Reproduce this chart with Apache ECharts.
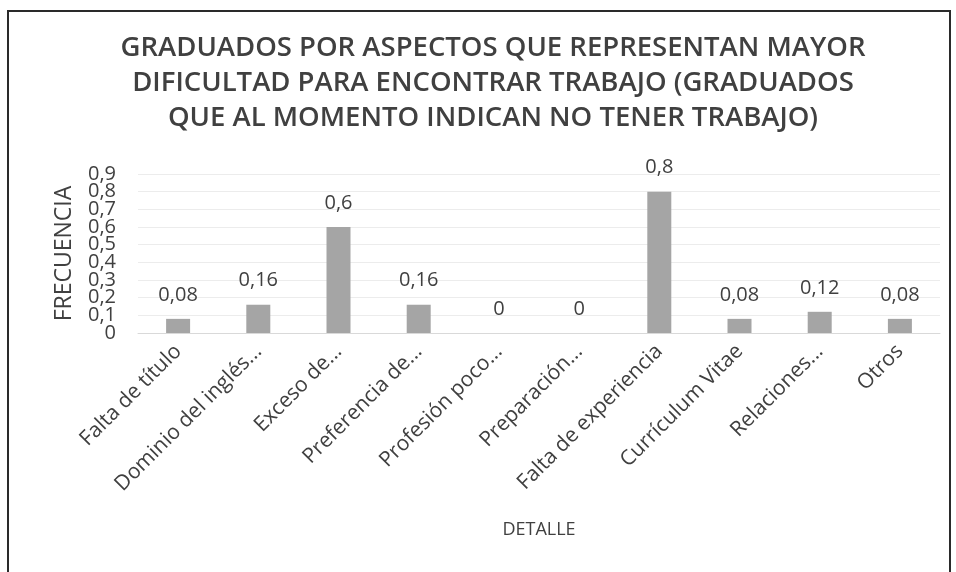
<!DOCTYPE html>
<html><head><meta charset="utf-8">
<script src="https://cdn.jsdelivr.net/npm/echarts@6/dist/echarts.min.js"></script>
<style>html,body{margin:0;padding:0;background:#fff}#c{width:956px;height:572px}</style>
</head><body><div id="c"></div>
<script>
const categories = ['Falta de título','Dominio del inglés...','Exceso de...','Preferencia de...','Profesión poco...','Preparación...','Falta de experiencia','Currículum Vitae','Relaciones...','Otros'];
const values = [0.08, 0.16, 0.6, 0.16, 0, 0, 0.8, 0.08, 0.12, 0.08];
const titleLines = ['GRADUADOS POR ASPECTOS QUE REPRESENTAN MAYOR','DIFICULTAD PARA ENCONTRAR TRABAJO (GRADUADOS','QUE AL MOMENTO INDICAN NO TENER TRABAJO)'];
const fmt = v => String(v).replace('.', ',');
const tickText = v => fmt(Math.round(v * 10) / 10);
const isEven = v => Math.round(v * 10) % 2 === 0;
const yLabelStyle = {fontFamily:'Open Sans', fontSize:20, color:'#404040', margin:22, showMinLabel:true, showMaxLabel:true, hideOverlap:false};
const chart = echarts.init(document.getElementById('c'));
chart.setOption({
  backgroundColor: '#fff',
  animation: false,
  graphic: [
    {type:'rect', shape:{x:8,y:11,width:942,height:600}, style:{fill:'none', stroke:'#2a2a2a', lineWidth:2}, silent:true},
    {type:'text', style:{text: titleLines.join('\n'), x:493, y:83, align:'center', verticalAlign:'middle', font:'600 27.5px "Open Sans"', lineHeight:35, fill:'#404040'}}
  ],
  grid: {left:138, right:16, top:174, bottom:239},
  xAxis: {
    type:'category', data: categories,
    name:'DETALLE', nameLocation:'middle', nameGap:188,
    nameTextStyle:{fontFamily:'Open Sans', fontSize:18, color:'#404040'},
    axisLine:{lineStyle:{color:'#d9d9d9'}}, axisTick:{show:false},
    axisLabel:{rotate:45, interval:0, fontFamily:'Open Sans', fontSize:21, color:'#404040', margin:15}
  },
  yAxis: [{
    type:'value', min:0, max:0.9, interval:0.1, position:'left',
    name:'FRECUENCIA', nameLocation:'middle', nameGap:62, nameRotate:90,
    nameTextStyle:{fontFamily:'Open Sans', fontSize:23, color:'#404040'},
    axisLine:{show:false}, axisTick:{show:false},
    splitLine:{lineStyle:{color:'#ececec'}},
    axisLabel: Object.assign({}, yLabelStyle, {formatter: v => isEven(v) ? tickText(v) : ''})
  }, {
    type:'value', min:0, max:0.9, interval:0.1, position:'left', offset:0,
    axisLine:{show:false}, axisTick:{show:false}, splitLine:{show:false},
    axisLabel: Object.assign({}, yLabelStyle, {formatter: v => isEven(v) ? '' : tickText(v)})
  }],
  series: [{
    type:'bar', data: values, barWidth:24, yAxisIndex:0,
    itemStyle:{color:'#a5a5a5'},
    label:{show:true, position:'top', distance:14, fontFamily:'Open Sans', fontSize:20, color:'#404040', formatter: p => fmt(p.value)}
  }]
});
</script></body></html>
